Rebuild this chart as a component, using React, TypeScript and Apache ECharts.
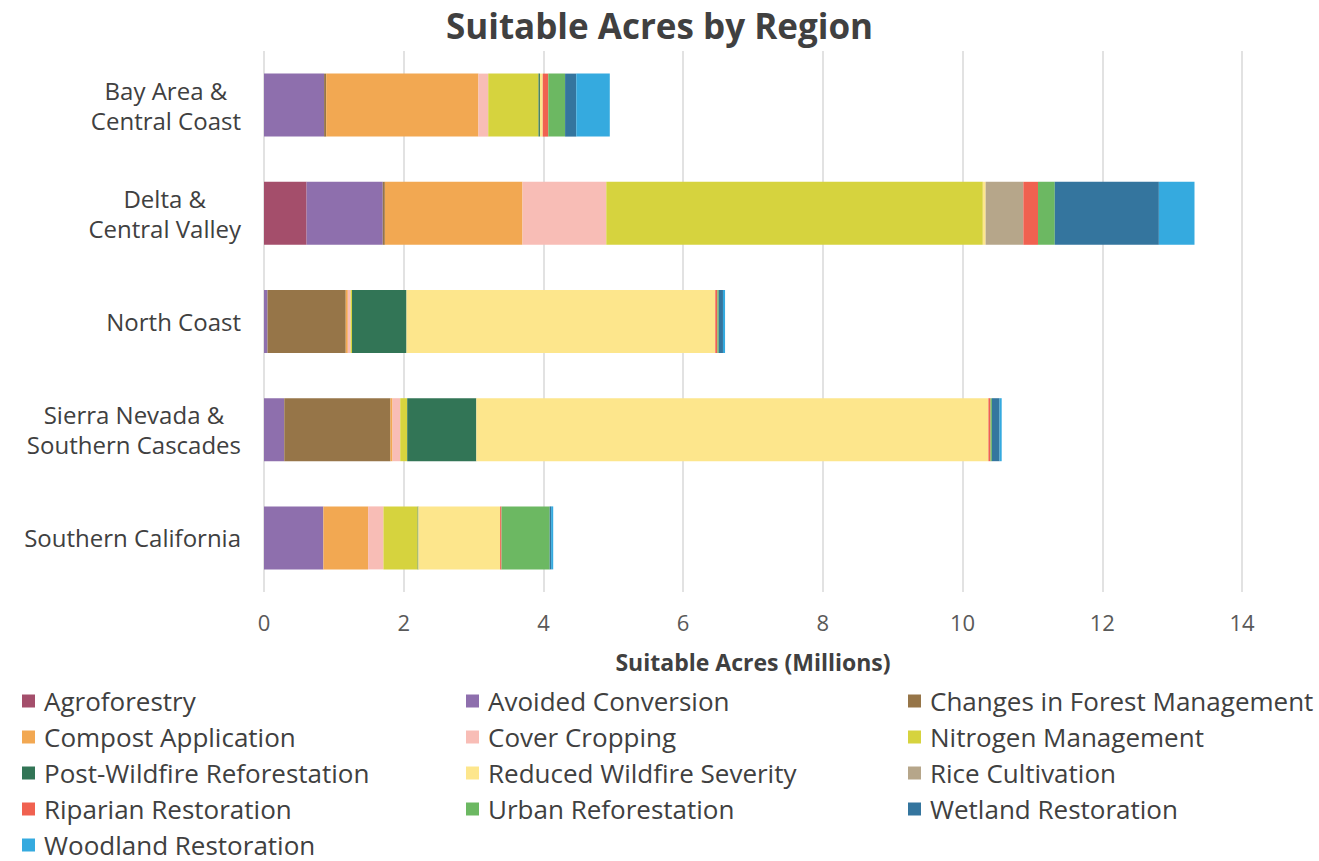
import React, { useEffect, useRef } from "react";
import * as echarts from "echarts";

const regions = [
  "Bay Area &\nCentral Coast",
  "Delta &\nCentral Valley",
  "North Coast",
  "Sierra Nevada &\nSouthern Cascades",
  "Southern California",
];

const seriesNames = [
  "Agroforestry",
  "Avoided Conversion",
  "Changes in Forest Management",
  "Compost Application",
  "Cover Cropping",
  "Nitrogen Management",
  "Post-Wildfire Reforestation",
  "Reduced Wildfire Severity",
  "Rice Cultivation",
  "Riparian Restoration",
  "Urban Reforestation",
  "Wetland Restoration",
  "Woodland Restoration",
];

const agroforestry = [0, 0.61, 0, 0, 0];
const avoidedConversion = [0.86, 1.09, 0.05, 0.29, 0.85];
const forestManagement = [0.03, 0.03, 1.12, 1.52, 0];
const compostApplication = [2.18, 1.97, 0.03, 0.03, 0.64];
const coverCropping = [0.14, 1.2, 0.04, 0.11, 0.22];
const nitrogenManagement = [0.72, 5.39, 0.02, 0.1, 0.49];
const postWildfire = [0.02, 0, 0.78, 0.99, 0.01];
const reducedWildfire = [0.04, 0.04, 4.42, 7.33, 1.17];
const riceCultivation = [0, 0.54, 0, 0, 0];
const riparianRestoration = [0.08, 0.21, 0.03, 0.03, 0.02];
const urbanReforestation = [0.24, 0.24, 0.02, 0.02, 0.69];
const wetlandRestoration = [0.16, 1.49, 0.06, 0.11, 0.02];
const woodlandRestoration = [0.48, 0.51, 0.03, 0.03, 0.03];

const seriesValues = [
  agroforestry,
  avoidedConversion,
  forestManagement,
  compostApplication,
  coverCropping,
  nitrogenManagement,
  postWildfire,
  reducedWildfire,
  riceCultivation,
  riparianRestoration,
  urbanReforestation,
  wetlandRestoration,
  woodlandRestoration,
];

const colors = [
  "#A44E6B",
  "#8E6FAD",
  "#967548",
  "#F2A852",
  "#F8BDB6",
  "#D6D33E",
  "#327556",
  "#FDE68C",
  "#B6A68A",
  "#F06150",
  "#6CB862",
  "#34759E",
  "#35AADF",
];

const xTicks = { min: 0, max: 14, interval: 2 };

const FONT = "'Open Sans', 'DejaVu Sans', sans-serif";

export default function App() {
  const ref = useRef<HTMLDivElement>(null);

  useEffect(() => {
    if (!ref.current) return;
    const chart = echarts.init(ref.current, undefined, { renderer: "svg" });

    const legendCols = [0, 1, 2].map((c) =>
      seriesNames.filter((_, i) => i % 3 === c)
    );
    const legendX = [22, 466, 908];

    const option: any = {
      animation: false,
      backgroundColor: "#ffffff",
      textStyle: { fontFamily: FONT },
      title: {
        text: "Suitable Acres by Region",
        left: "center",
        top: 5,
        padding: 0,
        textStyle: {
          fontFamily: FONT,
          fontSize: 35,
          fontWeight: "bold",
          color: "#404040",
          lineHeight: 40,
        },
      },
      legend: legendCols.map((names, c) => ({
        orient: "vertical",
        left: legendX[c],
        top: 688,
        padding: 0,
        itemWidth: 13,
        itemHeight: 13,
        itemGap: 10,
        icon: "rect",
        data: names,
        selectedMode: false,
        textStyle: {
          fontFamily: FONT,
          fontSize: 26,
          color: "#404040",
          lineHeight: 26,
          padding: [0, 0, 0, 4],
        },
      })),
      grid: {
        left: 264,
        right: 77,
        top: 51,
        bottom: 269,
        containLabel: false,
      },
      xAxis: {
        type: "value",
        min: xTicks.min,
        max: xTicks.max,
        interval: xTicks.interval,
        axisLine: { show: false },
        axisTick: { show: false },
        splitLine: { show: true, lineStyle: { color: "#D9D9D9", width: 1.5 } },
        axisLabel: {
          fontFamily: FONT,
          fontSize: 22,
          color: "#595959",
          margin: 19,
        },
        name: "Suitable Acres (Millions)",
        nameLocation: "middle",
        nameGap: 58,
        nameTextStyle: {
          fontFamily: FONT,
          fontSize: 23,
          fontWeight: "bold",
          color: "#404040",
        },
      },
      yAxis: {
        type: "category",
        data: regions,
        inverse: true,
        axisLine: { show: false },
        axisTick: { show: false },
        axisLabel: {
          margin: 23,
          formatter: (v: string) =>
            v
              .split("\n")
              .map((l) => `{c|${l}}`)
              .join("\n"),
          rich: {
            c: {
              align: "center",
              fontFamily: FONT,
              fontSize: 24,
              color: "#404040",
              lineHeight: 30,
            },
          },
        },
      },
      series: seriesNames.map((name, i) => ({
        name,
        type: "bar",
        stack: "total",
        barWidth: 63,
        itemStyle: { color: colors[i] },
        emphasis: { disabled: true },
        data: seriesValues[i],
      })),
    };

    chart.setOption(option);
    return () => chart.dispose();
  }, []);

  return (
    <div
      ref={ref}
      style={{ position: "fixed", left: 0, top: 0, width: 1319, height: 861 }}
    />
  );
}
